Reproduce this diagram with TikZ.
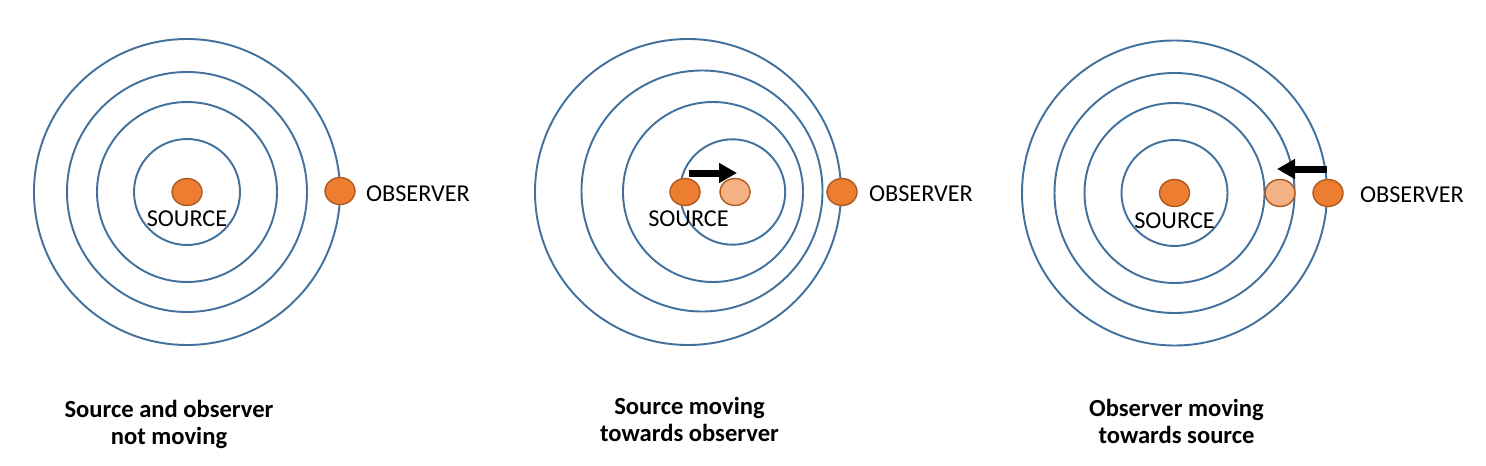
\documentclass[tikz,border=0pt]{standalone}
\usepackage{fontspec}
\setmainfont{Carlito}
\usetikzlibrary{positioning,arrows.meta,shapes.geometric}

\definecolor{waveblue}{HTML}{41719C}
\definecolor{dotorange}{HTML}{ED7D31}
\definecolor{dotedge}{HTML}{AE5A21}
\definecolor{dotlight}{HTML}{F4B183}

\tikzstyle{wave} = [draw=waveblue, line width=1.1pt]
\tikzstyle{dot} = [ellipse, minimum width=0.6cm, minimum height=0.54cm, inner sep=0pt,
fill=dotorange, draw=dotedge, line width=0.8pt]
\tikzstyle{ghost} = [dot, fill=dotlight]
\tikzstyle{caps} = [inner sep=0pt, font=\fontsize{13.8}{16}\selectfont]
\tikzstyle{caption} = [inner sep=0pt, align=center, font=\bfseries\fontsize{14}{15.4}\selectfont]
\tikzstyle{arrow} = [line width=0.14cm, -{Triangle[length=0.36cm,width=0.38cm]}]

\begin{document}
\begin{tikzpicture}[x=0.02cm, y=-0.02cm]
			\useasboundingbox (0,0) rectangle (1486,466);

			% waves, source and observer at rest
			\draw [wave] (187,192) circle (153);
			\draw [wave] (187,192) circle (120);
			\draw [wave] (187,192) circle (90);
			\draw [wave] (187,192) circle (53);

			% waves, source moving
			\draw [wave] (688,192) circle (153);
			\draw [wave] (702,191) circle (120.5);
			\draw [wave] (713,192) circle (90);
			\draw [wave] (732.5,192) circle (52.7);

			% waves, observer moving
			\draw [wave] (1174.5,193) circle (152.5);
			\draw [wave] (1174.5,193) circle (120);
			\draw [wave] (1174.5,193) circle (90);
			\draw [wave] (1174.5,193) circle (53);

			\node (src1) [dot] at (187,192) {};
			\node (obs1) [dot] at (340,191) {};
			\node (srcText1) [caps, below=0.09cm of src1] {SOURCE};
			\node (obsText1) [caps, right=0.2cm of obs1, yshift=-0.05cm] {OBSERVER};

			\node (src2) [dot] at (685,192) {};
			\node (srcNew2) [ghost] at (735,192) {};
			\node (obs2) [dot] at (842,192) {};
			\node (srcText2) [caps, below=0.09cm of src2, xshift=0.07cm] {SOURCE};
			\node (obsText2) [caps, right=0.22cm of obs2, yshift=-0.04cm] {OBSERVER};

			\node (src3) [dot] at (1174.5,193) {};
			\node (obsNew3) [ghost] at (1280,193) {};
			\node (obs3) [dot] at (1328,193) {};
			\node (srcText3) [caps, below=0.11cm of src3] {SOURCE};
			\node (obsText3) [caps, right=0.32cm of obs3, yshift=-0.03cm] {OBSERVER};

			\coordinate (pushFrom2) at (689,173);
			\coordinate (pushTo2) at (737,173);
			\coordinate (pushFrom3) at (1327,169);
			\coordinate (pushTo3) at (1277,169);
			\draw [arrow] (pushFrom2) -- (pushTo2);
			\draw [arrow] (pushFrom3) -- (pushTo3);

			\node (caption1) [caption] at (169,424) {Source and observer\\not moving};
			\node (caption2) [caption] at (689.5,419) {Source moving\\towards observer};
			\node (caption3) [caption] at (1176.5,421) {Observer moving\\towards source};

		\end{tikzpicture}
\end{document}
